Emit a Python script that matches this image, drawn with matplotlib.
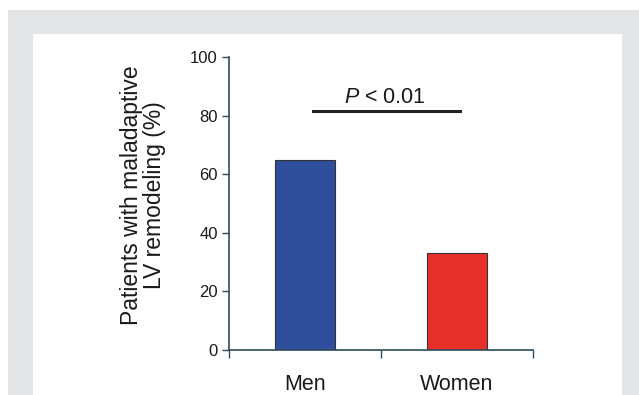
import matplotlib.pyplot as plt
from matplotlib.patches import Rectangle

# data
groups = ["Men", "Women"]
remodeling_pct = [65, 33]
bar_colors = ["#2f4f9c", "#e8302a"]
p_text = "$\\it{P}$ < 0.01"
p_level = 81.5

plt.rcParams['font.family'] = ['Liberation Sans', 'DejaVu Sans']
plt.rcParams['mathtext.fontset'] = 'custom'
plt.rcParams['mathtext.it'] = 'Liberation Sans:italic'

fig = plt.figure(figsize=(6.39, 3.95), dpi=100)

# gray frame with white panel behind the chart
fig.patches.append(Rectangle((8 / 639, 0), 1, 1 - 10 / 395, transform=fig.transFigure,
                             facecolor="#e4e5e7", edgecolor="none", zorder=-2))
fig.patches.append(Rectangle((33 / 639, 0), (622 - 33) / 639, 1 - 34 / 395,
                             transform=fig.transFigure, facecolor="white",
                             edgecolor="none", zorder=-1))

ax = fig.add_axes([229 / 639, 1 - 350 / 395, (533 - 229) / 639, (350 - 57) / 395])
ax.patch.set_alpha(0)

ax.bar(range(len(groups)), remodeling_pct, width=0.4, color=bar_colors,
       edgecolor="#333333", linewidth=0.8)

ax.set_xlim(-0.5, 1.5)
ax.set_ylim(0, 100)
ax.set_yticks([0, 20, 40, 60, 80, 100])
ax.tick_params(axis='y', labelsize=12, length=5, width=1, color="#2c4a5a",
               pad=3, labelcolor="#1a1a1a")

# category labels without ticks, separator ticks between them
ax.set_xticks(range(len(groups)))
ax.set_xticklabels(groups, fontsize=15.5, color="#1a1a1a")
ax.tick_params(axis='x', length=0, pad=17)
ax.set_xticks([-0.5, 0.5, 1.5], minor=True)
ax.tick_params(axis='x', which='minor', length=6, width=1, color="#2c4a5a", direction='out')

for s in ["top", "right"]:
    ax.spines[s].set_visible(False)
for s in ["left", "bottom"]:
    ax.spines[s].set_color("#2c4a5a")
    ax.spines[s].set_linewidth(1.2)

ax.set_ylabel("Patients with maladaptive\nLV remodeling (%)", fontsize=16.5,
              linespacing=1.0, color="#1a1a1a")
ax.yaxis.set_label_coords(-0.283, 0.53)
ax.yaxis.label.set_verticalalignment('center')

# significance bar
ax.plot([0.05, 1.02], [p_level, p_level], color="#222222", linewidth=2.2)
ax.text(0.525, p_level + 1.2, p_text, fontsize=15.5, ha="center", va="bottom",
        color="#1a1a1a")

fig.savefig("out.png", dpi=100)
